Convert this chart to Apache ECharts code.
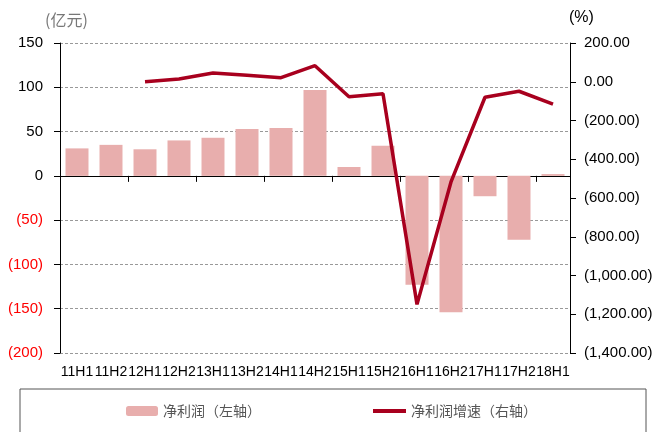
<!doctype html>
<html>
<head>
  <meta charset="utf-8">
  <script src="https://cdn.jsdelivr.net/npm/echarts@6/dist/echarts.min.js"></script>
  <style>
    html, body { margin: 0; padding: 0; background: #fff; }
    #chart { width: 662px; height: 432px; }
  </style>
</head>
<body>
  <div id="chart"></div>
  <script type="text/javascript">
    // half-year periods
    var periods = ['11H1', '11H2', '12H1', '12H2', '13H1', '13H2', '14H1', '14H2',
                   '15H1', '15H2', '16H1', '16H2', '17H1', '17H2', '18H1'];
    // net profit, 亿元 (left axis)
    var netProfit = [31, 35, 30, 40, 43, 53, 54, 97, 10, 34, -123, -154, -23, -72, 2];
    // net profit growth, % (right axis)
    var profitGrowth = [null, null, 0, 14, 45, 33, 21, 83, -77, -62, -1149, -517, -80, -49, -116];

    var barName = '净利润（左轴）';
    var lineName = '净利润增速（右轴）';

    var numFont = "'Liberation Sans', Arial, sans-serif";

    function paren(v, digits) {
      var n = Math.abs(v).toLocaleString('en-US', { minimumFractionDigits: digits, maximumFractionDigits: digits });
      return v < 0 ? '(' + n + ')' : n;
    }

    var myChart = echarts.init(document.getElementById('chart'));

    var option = {
      animation: false,
      grid: { left: 60, right: 92, top: 43, bottom: 79, containLabel: false },
      graphic: [
        { type: 'rect', shape: { x: 20, y: 389, width: 626, height: 60 },
          style: { fill: 'none', stroke: '#555', lineWidth: 1 } },
        { type: 'text', left: 45, top: 12,
          style: { text: '(亿元)', font: "16px 'Noto Sans CJK SC'", fill: '#777' } },
        { type: 'text', left: 569, top: 10,
          style: { text: '(%)', font: "16px " + numFont, fill: '#000' } }
      ],
      legend: [
        { data: [barName], left: 126, top: 404, padding: 0,
          itemWidth: 32, itemHeight: 10,
          textStyle: { fontFamily: 'Noto Sans CJK SC', fontSize: 14, color: '#555' } },
        { data: [{ name: lineName, icon: 'rect' }], left: 373, top: 404, padding: 0,
          itemWidth: 33, itemHeight: 4,
          textStyle: { fontFamily: 'Noto Sans CJK SC', fontSize: 14, color: '#555' } }
      ],
      xAxis: [
        {
          type: 'category',
          data: periods,
          position: 'bottom',
          axisLine: { show: false, onZero: false },
          axisTick: { show: false },
          axisLabel: { margin: 12, color: '#000', fontFamily: numFont, fontSize: 14, interval: 0 }
        },
        {
          type: 'category',
          data: periods,
          position: 'bottom',
          axisLine: { show: true, onZero: true, onZeroAxisIndex: 0, lineStyle: { color: '#000', width: 1 } },
          axisTick: { show: true, length: 6, lineStyle: { color: '#000' } },
          axisLabel: { show: false }
        }
      ],
      yAxis: [
        {
          type: 'value',
          min: -200, max: 150, interval: 50,
          axisLine: { show: true, lineStyle: { color: '#000' } },
          axisTick: { show: true, length: 6 },
          axisLabel: {
            margin: 17, fontFamily: numFont, fontSize: 15,
            formatter: function (v) { return paren(v, 0); },
            color: function (v) { return parseFloat(v) < 0 ? '#FF0000' : '#000'; }
          },
          splitLine: { show: true, lineStyle: { color: '#999', type: [3, 2], width: 1 } }
        },
        {
          type: 'value',
          min: -1400, max: 200, interval: 200,
          position: 'right',
          axisLine: { show: true, lineStyle: { color: '#000' } },
          axisTick: { show: true, length: 6 },
          axisLabel: {
            margin: 14, fontFamily: numFont, fontSize: 15, color: '#000',
            formatter: function (v) { return paren(v, 2); }
          },
          splitLine: { show: false }
        }
      ],
      series: [
        {
          name: barName,
          type: 'bar',
          xAxisIndex: 0,
          yAxisIndex: 0,
          data: netProfit,
          barWidth: 23,
          itemStyle: { color: '#E8AEAD' }
        },
        {
          name: lineName,
          type: 'line',
          xAxisIndex: 0,
          yAxisIndex: 1,
          data: profitGrowth,
          symbol: 'none',
          lineStyle: { color: '#A8001E', width: 3.5 },
          itemStyle: { color: '#A8001E' }
        }
      ]
    };

    myChart.setOption(option);
  </script>
</body>
</html>
